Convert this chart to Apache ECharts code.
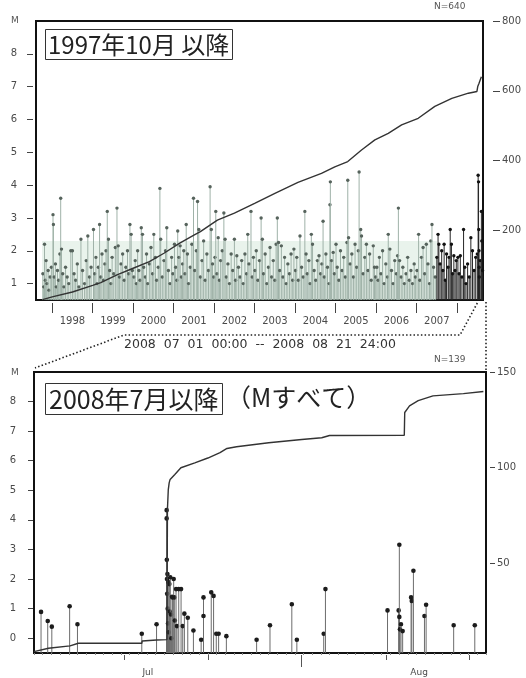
<!DOCTYPE html>
<html><head><meta charset="utf-8">
<script src="https://cdn.jsdelivr.net/npm/echarts@6/dist/echarts.min.js"></script>
<style>html,body{margin:0;padding:0;background:#fff}#c{width:526px;height:678px}</style>
</head><body><div id="c"></div>
<script>
// ---------- Top panel (1997-10 onward): event times (decimal year) and magnitudes ----------
const topYears = [
 1997.77,1997.79,1997.81,1997.83,1997.85,1997.87,1997.90,1997.92,1997.95,1997.98,
 1998.02,1998.03,1998.05,1998.08,1998.10,1998.13,1998.16,1998.19,1998.21,1998.23,1998.26,1998.29,1998.33,1998.37,1998.41,1998.46,1998.50,1998.54,1998.58,1998.62,1998.66,1998.71,1998.75,1998.80,1998.84,1998.88,1998.92,1998.96,
 1999.02,1999.05,1999.08,1999.11,1999.14,1999.17,1999.20,1999.23,1999.27,1999.30,1999.33,1999.36,1999.39,1999.42,1999.45,1999.48,1999.52,1999.56,1999.60,1999.63,1999.66,1999.70,1999.74,1999.78,1999.82,1999.86,1999.89,1999.92,1999.95,1999.98,
 2000.02,2000.05,2000.08,2000.11,2000.14,2000.17,2000.20,2000.23,2000.26,2000.30,2000.33,2000.36,2000.40,2000.44,2000.48,2000.51,2000.55,2000.58,2000.62,2000.66,2000.68,2000.72,2000.76,2000.80,2000.83,2000.87,2000.91,2000.95,2000.98,
 2001.02,2001.05,2001.08,2001.10,2001.13,2001.16,2001.19,2001.22,2001.25,2001.28,2001.31,2001.34,2001.37,2001.41,2001.45,2001.49,2001.52,2001.56,2001.59,2001.62,2001.66,2001.70,2001.74,2001.78,2001.82,2001.86,2001.90,2001.93,2001.96,2001.99,
 2002.02,2002.04,2002.07,2002.10,2002.13,2002.16,2002.20,2002.24,2002.27,2002.30,2002.34,2002.38,2002.42,2002.46,2002.50,2002.53,2002.56,2002.60,2002.64,2002.68,2002.72,2002.76,2002.80,2002.83,2002.86,2002.91,2002.94,2002.97,
 2003.01,2003.04,2003.08,2003.12,2003.16,2003.19,2003.22,2003.26,2003.30,2003.34,2003.38,2003.42,2003.46,2003.50,2003.53,2003.56,2003.59,2003.62,2003.66,2003.70,2003.74,2003.78,2003.82,2003.86,2003.90,2003.94,2003.97,
 2004.01,2004.04,2004.08,2004.12,2004.16,2004.20,2004.24,2004.27,2004.30,2004.34,2004.37,2004.40,2004.43,2004.47,2004.51,2004.55,2004.59,2004.63,2004.66,2004.69,2004.72,2004.76,2004.80,2004.84,2004.86,2004.87,2004.90,2004.94,2004.97,
 2005.01,2005.04,2005.08,2005.12,2005.16,2005.20,2005.24,2005.28,2005.30,2005.32,2005.36,2005.40,2005.44,2005.48,2005.52,2005.56,2005.58,2005.62,2005.64,2005.68,2005.72,2005.76,2005.80,2005.84,2005.88,2005.93,2005.96,2005.99,
 2006.02,2006.05,2006.08,2006.12,2006.16,2006.20,2006.24,2006.28,2006.30,2006.34,2006.38,2006.42,2006.46,2006.50,2006.53,2006.55,2006.58,2006.62,2006.66,2006.70,2006.74,2006.78,2006.82,2006.86,2006.90,2006.94,2006.97,
 2007.01,2007.05,2007.08,2007.12,2007.16,2007.20,2007.24,2007.28,2007.32,2007.35,2007.38,2007.42,2007.46,2007.50,2007.53,2007.55,2007.58,2007.62,2007.65,2007.68,2007.71,2007.74,2007.78,2007.80,2007.83,2007.86,2007.89,2007.92,2007.95,2007.98,
 2008.02,2008.05,2008.08,2008.12,2008.16,2008.19,2008.22,2008.26,2008.30,2008.34,2008.38,2008.42,2008.46,2008.50,2008.52,2008.53,2008.535,2008.54,2008.545,2008.55,2008.57,2008.60,2008.61,2008.63
];
const topMags = [
 1.3,0.9,2.2,1.1,1.7,1.0,1.4,0.8,1.2,1.5,
 3.1,2.8,1.2,1.6,0.9,1.4,1.1,1.9,3.6,2.05,1.3,0.9,1.5,1.2,1.0,2.0,2.0,1.3,1.1,1.6,0.9,2.35,1.4,1.0,1.7,2.45,1.2,1.5,
 2.65,1.3,1.8,1.0,1.5,2.8,1.2,1.9,1.1,1.6,2.0,3.2,2.35,1.4,1.0,1.8,1.3,2.1,3.3,2.15,1.2,1.6,1.9,1.1,1.5,2.0,1.3,2.8,2.5,1.4,
 1.2,1.7,1.0,2.0,1.4,1.1,2.7,2.5,1.5,1.2,1.9,1.0,1.6,2.1,1.3,2.5,1.8,1.1,1.5,3.9,2.35,1.2,1.7,2.0,2.7,1.4,1.0,1.8,1.3,
 2.2,1.5,1.1,2.6,1.8,2.15,1.2,1.6,2.0,1.3,2.8,1.9,1.0,1.5,2.2,3.6,1.4,2.0,3.5,2.65,1.2,1.7,2.3,1.1,1.9,1.4,3.95,2.65,1.6,1.2,
 1.8,3.2,1.3,2.4,1.1,1.7,2.0,3.15,2.35,1.2,1.6,1.0,1.9,1.4,2.35,1.1,1.85,1.5,1.2,1.7,1.0,1.9,1.3,2.5,1.6,3.2,1.2,1.8,
 1.4,2.0,1.1,1.7,3.0,2.35,1.3,1.9,1.0,1.5,2.1,1.2,1.7,1.1,2.2,3.0,2.25,1.4,2.15,1.2,1.8,1.0,1.6,1.3,1.9,1.1,2.05,
 1.4,1.8,1.1,2.45,1.5,1.2,3.2,1.9,1.3,1.7,1.0,2.5,2.2,1.4,1.1,1.7,1.85,1.3,1.6,2.9,1.2,1.9,1.5,1.0,3.4,4.1,1.7,1.95,1.3,
 2.2,1.5,1.1,2.0,1.4,1.8,1.2,2.25,4.15,2.4,1.6,1.9,1.2,2.2,1.5,2.0,4.4,2.65,2.45,1.3,1.8,2.2,1.4,1.9,1.1,2.15,1.5,1.2,
 1.5,1.1,1.8,1.3,2.0,1.0,1.6,1.2,2.5,2.05,1.4,1.0,1.7,1.3,1.85,3.3,1.7,1.2,1.5,1.0,1.3,1.8,1.1,1.4,1.0,1.6,1.2,
 1.4,2.5,1.1,1.8,2.1,1.3,2.2,1.6,1.0,2.3,2.8,1.5,1.2,1.8,2.5,2.2,1.6,2.0,1.4,2.2,1.1,1.9,1.5,1.8,2.65,2.2,1.3,1.85,1.4,1.7,
 1.8,1.3,1.85,1.2,2.65,1.5,1.0,1.6,1.2,2.4,2.0,1.4,1.8,1.9,4.3,4.1,2.65,2.0,1.5,1.2,1.7,3.2,2.3,1.4
];
// cumulative number (right axis)
const topCumYears = [1997.76,1998.0,1998.5,1999.0,1999.2,1999.6,2000.0,2000.4,2000.76,2001.15,2001.5,2001.66,2002.08,2002.5,2003.0,2003.5,2004.07,2004.65,2004.98,2005.3,2005.64,2005.97,2006.3,2006.63,2007.04,2007.45,2007.87,2008.28,2008.49,2008.51,2008.54,2008.6];
const topCumCounts = [1,9,23,42,50,72,91,110,134,163,186,196,229,249,277,306,337,363,382,397,430,459,478,502,521,555,578,593,598,612,621,640];
const topYearTicks = [1998,1999,2000,2001,2002,2003,2004,2005,2006,2007,2008];
const topYearLabels = [1998,1999,2000,2001,2002,2003,2004,2005,2006,2007];

// ---------- Bottom panel (2008-07-01 .. 2008-08-21): day offset from Jul 1 00:00, magnitudes ----------
const botDays = [
 0.81,1.58,2.05,4.1,5.0,12.4,14.1,
 15.26,15.26,15.28,15.3,15.32,15.35,15.38,15.42,15.45,15.5,15.57,15.62,15.68,15.76,15.8,15.88,15.95,16.07,16.14,16.2,16.34,16.45,16.65,16.92,17.11,17.3,17.69,18.34,19.23,19.5,19.5,20.39,20.66,20.97,21.24,22.13,
 25.61,27.15,29.66,30.24,33.33,33.53,
 40.67,41.95,42.03,42.03,42.1,42.22,42.41,43.38,43.46,43.65,44.92,45.11,48.28,50.71
];
const botMags = [
 0.89,0.58,0.39,1.08,0.47,0.15,0.47,
 4.33,4.05,2.65,2.0,1.5,2.17,1.0,0.5,1.9,0.2,1.83,0.9,2.06,0.8,0.0,1.4,1.38,2.0,1.38,0.6,1.66,0.41,1.66,1.66,0.41,0.83,0.69,0.26,-0.05,1.38,0.75,1.55,1.43,0.15,0.15,0.07,
 -0.05,0.44,1.15,-0.05,0.15,1.66,
 0.94,0.94,3.16,0.72,0.3,0.47,0.24,1.38,1.26,2.28,0.75,1.13,0.44,0.44
];
const botCumDays = [0.0,1.66,1.85,4.15,5.1,12.4,12.45,14.1,15.3,15.35,15.45,15.55,15.66,16.2,16.9,18.5,20.0,21.4,22.2,23.3,27.0,30.8,33.1,34.0,42.6,42.65,43.2,44.2,45.9,49.4,51.7];
const botCumCounts = [3.7,5.5,6.3,6.7,8.1,8.1,9.3,9.8,10,78,88.5,92,93.8,96.4,99.9,102.5,105,107.8,110,110.9,113,114.7,115.6,116.8,116.9,128.8,132.3,135,137.5,138.7,139.8];
const botTickDays = [10.4,20.0,30.8,40.5,50.1];
const botMonthLabelDays = [13.1,44.3];
const botMonthNames = ['Jul','Aug'];

// ---------- chart ----------
const chart = echarts.init(document.getElementById('c'));
const FONT = 'DejaVu Sans';
const CJK = 'Noto Sans CJK JP';
const LBL = '#4a4a4a';

function stemRenderer(base, colorOf, r) {
  return function (params, api) {
    const x = api.value(0), m = api.value(1);
    const p0 = api.coord([x, base]);
    const p1 = api.coord([x, m]);
    const c = colorOf(x);
    return {
      type: 'group',
      children: [
        { type: 'line', shape: { x1: p0[0], y1: p0[1], x2: p1[0], y2: p1[1] }, style: { stroke: c.line, lineWidth: 1 } },
        { type: 'circle', shape: { cx: p1[0], cy: p1[1], r: r }, style: { fill: c.dot } }
      ]
    };
  };
}
const topColor = x => x >= 2007.5 ? { line: '#262626', dot: '#111' } : { line: '#9fb2a8', dot: '#56635c' };
const botColor = () => ({ line: '#6c6c6c', dot: '#1c1c1c' });

function yAx(grid, min, max, pos, vals, offset, len, margin) {
  return {
    type: 'value', gridIndex: grid, min: min, max: max, position: pos, offset: offset,
    axisLine: { show: false, onZero: false }, splitLine: { show: false },
    axisTick: { show: true, customValues: vals, length: len, lineStyle: { color: '#444', width: 1 } },
    axisLabel: { customValues: vals, margin: margin, color: LBL, fontSize: 10, fontFamily: FONT }
  };
}
function xAx(grid, min, max, offset, extra) {
  return Object.assign({
    type: 'value', gridIndex: grid, position: 'bottom', min: min, max: max, offset: offset,
    axisLine: { show: false, onZero: false }, splitLine: { show: false }
  }, extra);
}

const option = {
  animation: false,
  backgroundColor: '#fff',
  title: [
    { text: '1997年10月 以降', left: 45, top: 29, padding: [4, 3, 3, 3], borderColor: '#333', borderWidth: 1,
      textStyle: { fontFamily: CJK, fontSize: 24, fontWeight: 'normal', color: '#222' } },
    { text: '2008年7月以降', left: 45, top: 383, padding: [4, 4, 3, 4], borderColor: '#333', borderWidth: 1,
      textStyle: { fontFamily: CJK, fontSize: 25, fontWeight: 'normal', color: '#222' } }
  ],
  grid: [
    { left: 36, right: 43, top: 21, height: 279, show: true, borderColor: '#111', borderWidth: 2, backgroundColor: 'transparent' },
    { left: 34, right: 40, top: 372, height: 281, show: true, borderColor: '#111', borderWidth: 2, backgroundColor: 'transparent' }
  ],
  xAxis: [
    xAx(0, 1997.6, 2008.64, 3, {
      axisTick: { customValues: topYearTicks, length: 10, lineStyle: { color: '#444' } },
      axisLabel: { customValues: topYearLabels.map(v => v + 0.5), formatter: v => String(Math.floor(v)), margin: 13, color: LBL, fontSize: 10, fontFamily: FONT } }),
    xAx(1, 0, 52, 2, {
      axisTick: { customValues: botTickDays, length: 5, lineStyle: { color: '#555' } },
      axisLabel: { customValues: botMonthLabelDays, formatter: v => botMonthNames[botMonthLabelDays.indexOf(v)], margin: 13, color: LBL, fontSize: 9, fontFamily: FONT } }),
    xAx(1, 0, 52, 0, { interval: 1, axisLabel: { show: false }, axisTick: { length: 2, lineStyle: { color: '#888' } } }),
    xAx(1, 0, 52, 5, { axisLabel: { show: false }, axisTick: { customValues: [botTickDays[2]], length: 9, lineStyle: { color: '#555' } } })
  ],
  yAxis: [
    yAx(0, 0.5, 9, 'left', [1, 2, 3, 4, 5, 6, 7, 8], 3, 6, 16),
    yAx(0, 0, 800, 'right', [200, 400, 600, 800], 10, 7, 9),
    yAx(1, -0.5, 9, 'left', [0, 1, 2, 3, 4, 5, 6, 7, 8], 1, 5, 17),
    yAx(1, 3, 150, 'right', [50, 100, 150], 4, 5, 7)
  ],
  series: [
    { type: 'custom', xAxisIndex: 0, yAxisIndex: 0, renderItem: stemRenderer(0.5, topColor, 1.7),
      data: topYears.map((y, i) => [y, topMags[i]]), encode: { x: 0, y: 1 }, z: 2,
      markArea: { silent: true, itemStyle: { color: 'rgba(175,212,188,0.28)' },
        data: [[{ xAxis: 1997.75, yAxis: 0.5 }, { xAxis: 2007.5, yAxis: 2.3 }]] } },
    { type: 'line', xAxisIndex: 0, yAxisIndex: 1, data: topCumYears.map((y, i) => [y, topCumCounts[i]]),
      showSymbol: false, lineStyle: { color: '#333', width: 1.4 }, z: 3 },
    { type: 'custom', xAxisIndex: 1, yAxisIndex: 2, renderItem: stemRenderer(-0.5, botColor, 2.3),
      data: botDays.map((d, i) => [d, botMags[i]]), encode: { x: 0, y: 1 }, z: 2 },
    { type: 'line', xAxisIndex: 1, yAxisIndex: 3, data: botCumDays.map((d, i) => [d, botCumCounts[i]]),
      showSymbol: false, lineStyle: { color: '#333', width: 1.4 }, z: 3 }
  ]
};
chart.setOption(option);

// zoom connector (decoration) positioned from the axes
const xJulTop = chart.convertToPixel({ xAxisIndex: 0 }, 2008.5);
const xEndTop = chart.convertToPixel({ xAxisIndex: 0 }, 2008.64);
const dot = { stroke: '#222', lineWidth: 1.6, lineDash: [1.5, 2.2], fill: null };
chart.setOption({
  graphic: [
    { type: 'polyline', shape: { points: [[xJulTop, 303], [460, 335], [124, 335], [35, 368]] }, style: dot, silent: true },
    { type: 'line', shape: { x1: xEndTop + 3, y1: 302, x2: xEndTop + 3, y2: 371 }, style: dot, silent: true },
    { type: 'text', left: 124, top: 338, style: { text: '2008  07  01  00:00  --  2008  08  21  24:00', font: '12.5px "DejaVu Sans"', fill: '#333' } },
    { type: 'text', left: 434, top: 2, style: { text: 'N=640', font: '9px "DejaVu Sans"', fill: '#555' } },
    { type: 'text', left: 434, top: 355, style: { text: 'N=139', font: '9px "DejaVu Sans"', fill: '#555' } },
    { type: 'text', left: 11, top: 16, style: { text: 'M', font: '9px "DejaVu Sans"', fill: '#555' } },
    { type: 'text', left: 11, top: 368, style: { text: 'M', font: '9px "DejaVu Sans"', fill: '#555' } },
    { type: 'text', left: 226, top: 385, style: { text: '（Mすべて）', font: '25px "Noto Sans CJK JP"', fill: '#222' } }
  ]
});
</script></body></html>
